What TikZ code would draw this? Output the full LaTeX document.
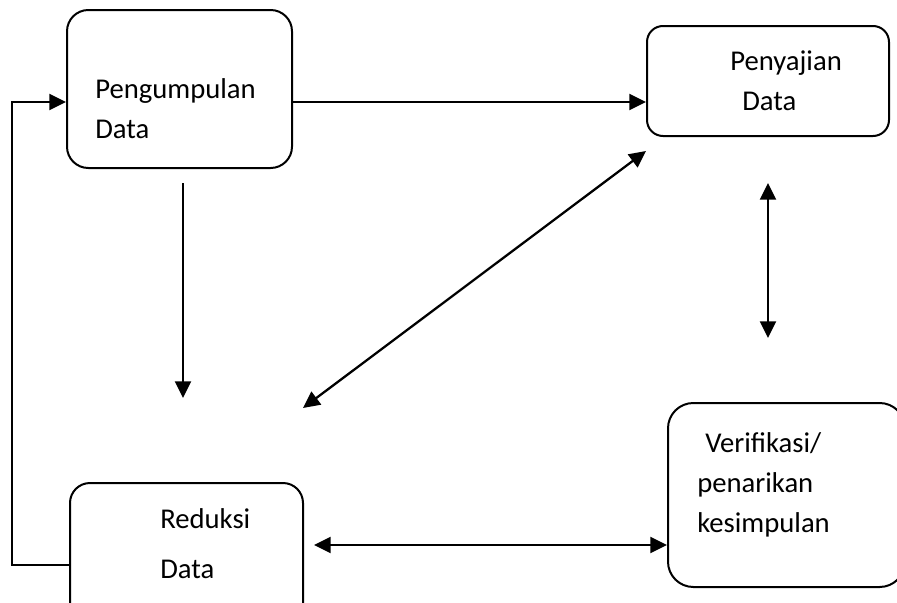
\documentclass[tikz,border=0pt]{standalone}
\usepackage{fontspec}
\setmainfont{Carlito}
\usetikzlibrary{arrows.meta}

\tikzset{
  box/.style={draw, line width=1.5pt, inner sep=0pt},
  txt/.style={anchor=base west, align=left, inner sep=0pt,
    font=\fontsize{21.5}{30}\selectfont},
  arr/.style={line width=1.7pt, -{Triangle[length=12.5pt,width=12pt]}},
  darr/.style={line width=1.7pt, {Triangle[length=12.5pt,width=12pt]}-{Triangle[length=12.5pt,width=12pt]}}
}

\begin{document}
\begin{tikzpicture}[x=0.75pt, y=-0.75pt]
\clip (0,0) rectangle (897,603);

%boxes
\node[box, rounded corners=16pt, minimum width=168.75pt, minimum height=118.5pt] (kumpul) at (179.5,89) {};
\node[box, rounded corners=12pt, minimum width=181.5pt, minimum height=82.5pt] (saji) at (768,81) {};
\node[box, rounded corners=15pt, minimum width=174.75pt, minimum height=106.5pt] (reduksi) at (186.5,554) {};
\node[box, rounded corners=19pt, minimum width=177.75pt, minimum height=138pt] (verif) at (786.5,495) {};

%texts (anchored at the baseline of the last line)
\node[txt] (tkumpul) at (95,138) {Pengumpulan\\Data};
\node[txt] (tsaji) at (730,110) {Penyajian\\\hspace*{9pt}Data};
\node[txt] (treduksi) at (160,578) {Reduksi\\[7.5pt]Data};
\node[txt] (tverif) at (697,532) {\hspace*{6pt}Verifikasi/\\penarikan\\kesimpulan};

%free ends
\coordinate (down1) at (183,183);
\coordinate (down2) at (183,398);
\coordinate (diag1) at (303,408);
\coordinate (diag2) at (646,151);
\coordinate (vert1) at (768,183);
\coordinate (vert2) at (768,338);

%arrows
\draw[arr] (kumpul.east |- 0,102) -- (saji.west |- 0,102);
\draw[arr] (reduksi.west |- 0,565) -| (12,102) -- (kumpul.west |- 0,102);
\draw[arr] (down1) -- (down2);
\draw[darr] (diag1) -- (diag2);
\draw[darr] (vert1) -- (vert2);
\draw[darr] ([xshift=7.5pt]reduksi.east |- 0,545) -- (verif.west |- 0,545);

\end{tikzpicture}
\end{document}
